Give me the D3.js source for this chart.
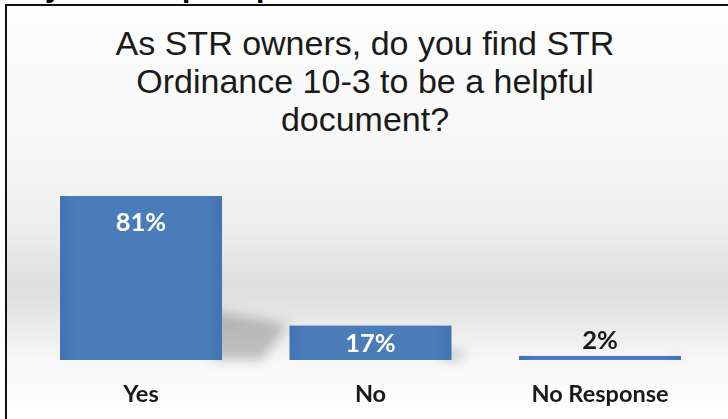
<!DOCTYPE html>
<html><head><meta charset="utf-8">
<script src="https://cdn.jsdelivr.net/npm/d3@7"></script>
<style>html,body{margin:0;padding:0;background:#fff;overflow:hidden}</style>
</head><body>
<script>
const categories = ["Yes", "No", "No Response"];
const values = [81, 17, 2];
const valueLabels = ["81%", "17%", "2%"];
const titleLines = ["As STR owners, do you find STR", "Ordinance 10-3 to be a helpful", "document?"];
const headingFragments = [["y", 45], ["p", 182], ["p", 256]];

const W = 728, H = 419;
const svg = d3.select("body").append("svg").attr("width", W).attr("height", H);
const defs = svg.append("defs");

const bg = defs.append("linearGradient").attr("id", "bg").attr("x1", 0).attr("y1", 0).attr("x2", 0).attr("y2", 1);
[[0, "#fdfdfd"], [0.35, "#f7f7f7"], [0.55, "#ececec"], [0.68, "#dedede"], [0.75, "#e6e6e6"], [0.86, "#f8f8f8"], [1, "#ffffff"]]
  .forEach(([o, c]) => bg.append("stop").attr("offset", o).attr("stop-color", c));

const barG = defs.append("linearGradient").attr("id", "barG").attr("x1", 0).attr("y1", 0).attr("x2", 1).attr("y2", 0);
[[0, "#4273b2"], [0.1, "#4a7cba"], [0.9, "#4a7cba"], [1, "#4273b2"]]
  .forEach(([o, c]) => barG.append("stop").attr("offset", o).attr("stop-color", c));

defs.append("filter").attr("id", "blur").attr("x", "-50%").attr("y", "-50%").attr("width", "200%").attr("height", "200%")
  .append("feGaussianBlur").attr("stdDeviation", 6);

// background panel
svg.append("rect").attr("x", 7).attr("y", 6).attr("width", W - 7).attr("height", H - 6).attr("fill", "url(#bg)");
// border
svg.append("path").attr("d", `M6,${H} V5 H${W}`).attr("fill", "none").attr("stroke", "#111").attr("stroke-width", 2);

// cut-off heading fragments above
svg.selectAll("text.frag").data(headingFragments).join("text")
  .attr("x", d => d[1]).attr("y", -3)
  .attr("font-family", "Liberation Sans, Arial, sans-serif").attr("font-weight", "bold").attr("font-size", 30)
  .attr("fill", "#000").text(d => d[0]);

// title
svg.append("text").attr("x", 365).attr("y", 55)
  .attr("text-anchor", "middle").attr("font-family", "Liberation Sans, Arial, sans-serif")
  .attr("font-size", 34).attr("fill", "#1a1a1a")
  .selectAll("tspan").data(titleLines).join("tspan")
  .attr("x", 365).attr("dy", (d, i) => i === 0 ? 0 : 38).text(d => d);

// scales
const x = d3.scaleBand().domain(categories).range([60, 681]).paddingInner(0.294).paddingOuter(0);
const y = d3.scaleLinear().domain([0, 100]).range([360, 157.5]);

// shadows
svg.append("g").attr("filter", "url(#blur)").selectAll("path").data(values).join("path")
  .attr("d", (d, i) => {
    const x0 = x(categories[i]), x1 = x0 + x.bandwidth(), top = y(d), b = y(0), h = b - top;
    return `M${x1 - 10},${b} L${x1 - 10},${b - h * 0.3} L${x1 + h * 0.4},${b - h * 0.22} L${x1 + h * 0.25},${b} Z`;
  })
  .attr("fill", "#000").attr("opacity", 0.22);

// bars
svg.selectAll("rect.bar").data(values).join("rect").attr("class", "bar")
  .attr("x", (d, i) => x(categories[i])).attr("width", x.bandwidth())
  .attr("y", d => y(d)).attr("height", d => y(0) - y(d))
  .attr("fill", "url(#barG)");

// value labels
svg.selectAll("text.val").data(values).join("text").attr("class", "val")
  .attr("x", (d, i) => x(categories[i]) + x.bandwidth() / 2)
  .attr("y", d => {
    const h = y(0) - y(d);
    return h > 20 ? y(d) + Math.min(26, h / 2) : y(d) - 16;
  })
  .attr("dy", "0.36em").attr("text-anchor", "middle")
  .attr("font-family", "Lato, Open Sans, sans-serif").attr("font-weight", "bold").attr("font-size", 25.5)
  .attr("fill", d => (y(0) - y(d)) > 20 ? "#ffffff" : "#1a1a1a")
  .text((d, i) => valueLabels[i]);

// category axis labels
svg.selectAll("text.cat").data(categories).join("text").attr("class", "cat")
  .attr("x", d => x(d) + x.bandwidth() / 2).attr("y", 394).attr("dy", "0.36em")
  .attr("text-anchor", "middle")
  .attr("font-family", "Lato, Open Sans, sans-serif").attr("font-weight", "bold").attr("font-size", 23.5)
  .attr("fill", "#1a1a1a").text(d => d);
</script>
</body></html>
